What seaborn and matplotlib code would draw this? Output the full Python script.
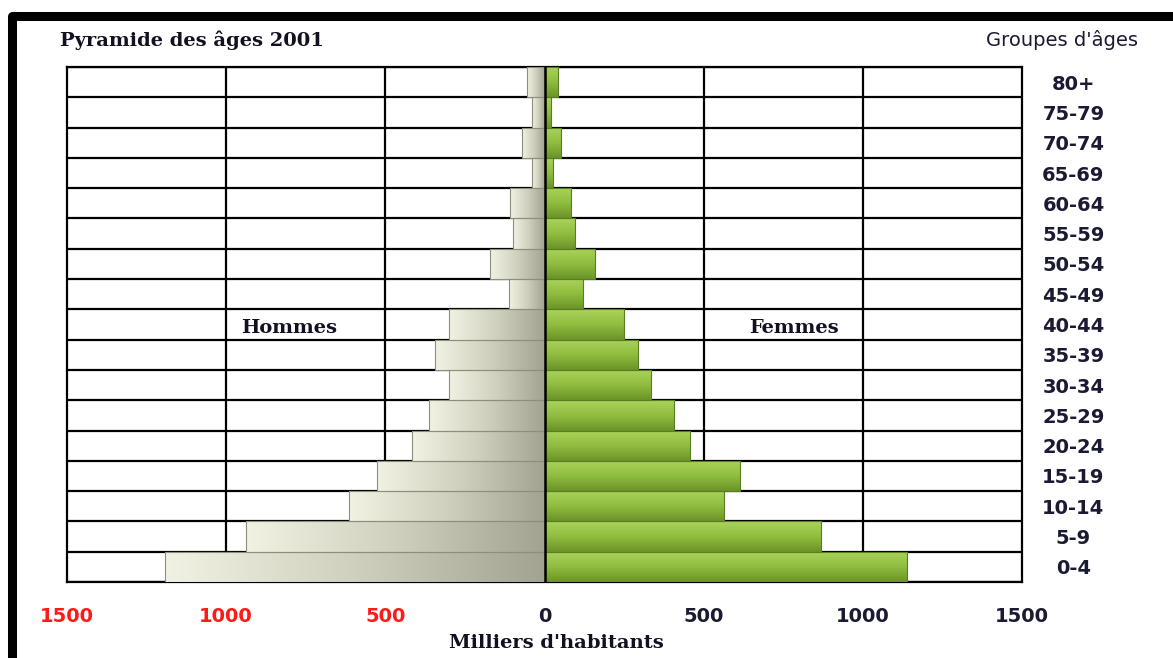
"""Pyramide des âges 2001 : reproduction avec seaborn."""

import matplotlib

matplotlib.use("Agg")

import matplotlib.pyplot as plt
import numpy as np
import pandas as pd
import seaborn as sns
from matplotlib.colors import LinearSegmentedColormap
from matplotlib.lines import Line2D


groupes = ["80+", "75-79", "70-74", "65-69", "60-64", "55-59", "50-54",
           "45-49", "40-44", "35-39", "30-34", "25-29", "20-24", "15-19",
           "10-14", "5-9", "0-4"]
hommes = [55, 40, 70, 38, 107, 100, 171, 111, 300, 344, 300, 363, 416,
          525, 613, 937, 1192]
femmes = [41, 19, 53, 28, 82, 97, 159, 122, 250, 294, 333, 407, 458,
          615, 565, 870, 1139]
ticks = [-1500, -1000, -500, 0, 500, 1000, 1500]
tick_labels = ["1500", "1000", "500", "0", "500", "1000", "1500"]

sns.set_theme(style="white")
plt.rcParams["font.family"] = ["DejaVu Sans"]

df = pd.concat([
    pd.DataFrame({"groupe": groupes, "valeur": [-v for v in hommes], "sexe": "Hommes"}),
    pd.DataFrame({"groupe": groupes, "valeur": femmes, "sexe": "Femmes"}),
])

fig = plt.figure(figsize=(11.73, 6.58), dpi=100)
ax = fig.add_axes([67 / 1173, 1 - 582 / 658, 955 / 1173, 515 / 658])

sns.barplot(data=df, x="valeur", y="groupe", hue="sexe", order=groupes,
            hue_order=["Hommes", "Femmes"], palette=["#c9cab4", "#8fbe3f"],
            orient="h", dodge=False, width=1.0, legend=False, ax=ax,
            edgecolor="none", zorder=3)

# dégradés sur les barres
cm_h = LinearSegmentedColormap.from_list("h", ["#a3a391", "#cfd0bd", "#f1f2e3"])
cm_f = LinearSegmentedColormap.from_list("f", ["#6a9428", "#8fbe3f", "#abd45c"])
for patch in list(ax.patches):
    x0, y0 = patch.get_x(), patch.get_y()
    w, h = patch.get_width(), patch.get_height()
    if w == 0:
        continue
    if w < 0:
        grad = np.linspace(0, 1, 256).reshape(1, -1)
        img = ax.imshow(grad, cmap=cm_h, aspect="auto", zorder=3.5,
                        extent=(x0, x0 + w, y0 + h, y0), interpolation="bilinear")
    else:
        grad = np.linspace(1, 0, 256).reshape(-1, 1)
        img = ax.imshow(grad, cmap=cm_f, aspect="auto", zorder=3.5,
                        extent=(x0, x0 + w, y0 + h, y0), interpolation="bilinear")
    img.set_clip_path(patch)
    edge = "#8e8e7c" if w < 0 else "#5a7d22"
    ax.add_patch(plt.Rectangle((x0, y0), w, h, fill=False, edgecolor=edge,
                               linewidth=0.8, zorder=3.6))

ax.set_xlim(-1500, 1500)
ax.set_ylim(len(groupes) - 0.5, -0.5)

# lignes de la grille
for b in np.arange(-0.5, len(groupes), 1.0):
    ax.axhline(b, color="black", linewidth=1.6, zorder=1)
for t in [-1000, -500, 500, 1000]:
    ax.axvline(t, color="black", linewidth=1.6, zorder=1)
ax.axvline(0, color="black", linewidth=1.8, zorder=5)

for s in ax.spines.values():
    s.set_color("black")
    s.set_linewidth(1.6)

ax.set_xticks(ticks)
ax.set_xticklabels(tick_labels)
ax.tick_params(axis="x", direction="out", length=5, width=1.6, color="black",
               labelsize=14, pad=13)
for lab, t in zip(ax.get_xticklabels(), ticks):
    lab.set_fontweight("bold")
    lab.set_color("#ff1a1a" if t < 0 else "#1a1a33")

ax.yaxis.tick_right()
ax.set_yticks(range(len(groupes)))
ax.set_yticklabels(groupes)
ax.tick_params(axis="y", length=0, labelsize=14, pad=37)
for lab in ax.get_yticklabels():
    lab.set_fontweight("bold")
    lab.set_color("#1a1a33")
    lab.set_horizontalalignment("center")
    lab.set_verticalalignment("center_baseline")

ax.set_xlabel("")
ax.set_ylabel("")

serif = ["DejaVu Serif"]
ax.text(-803, 8.1, "Hommes", family=serif, fontsize=14, fontweight="bold",
        ha="center", va="center", color="#111122", zorder=6)
ax.text(785, 8.1, "Femmes", family=serif, fontsize=14, fontweight="bold",
        ha="center", va="center", color="#111122", zorder=6)

fig.text(60 / 1173, 1 - 40 / 658, "Pyramide des âges 2001", family=serif,
         fontsize=14, fontweight="bold", ha="left", va="center", color="#111122")
fig.text(1138 / 1173, 1 - 40 / 658, "Groupes d'âges", fontsize=14,
         ha="right", va="center", color="#1a1a33")
fig.text(556 / 1173, 1 - 643 / 658, "Milliers d'habitants", family=serif,
         fontsize=14, fontweight="bold", ha="center", va="center", color="#111122")

# cadre noir épais
fig.add_artist(Line2D([12 / 1173, 12 / 1173, 1.01], [-0.01, 1 - 16 / 658, 1 - 16 / 658],
                      transform=fig.transFigure, color="black", linewidth=6.5,
                      solid_joinstyle="round"))

fig.savefig("out.png", dpi=100)
plt.close(fig)
